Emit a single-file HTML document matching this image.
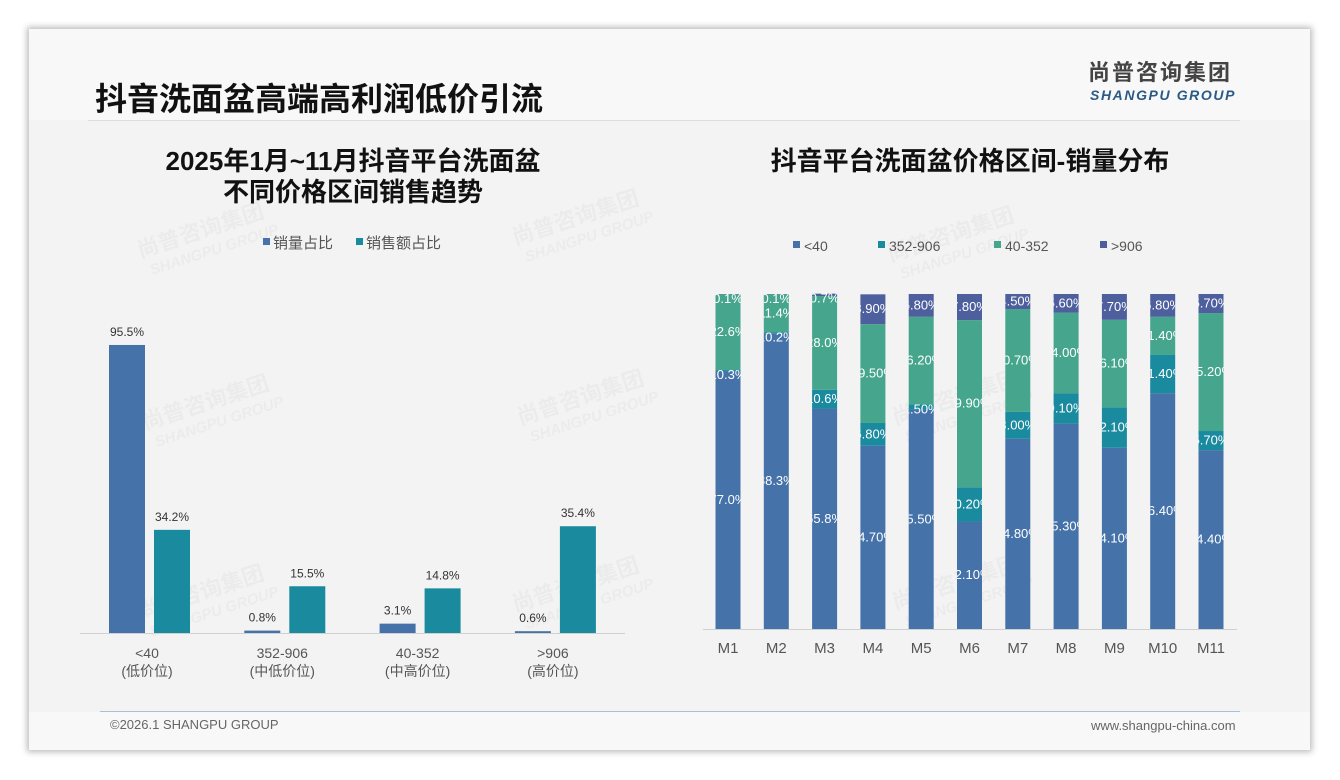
<!DOCTYPE html>
<html><head><meta charset="utf-8"><style>
body{margin:0;width:1340px;height:780px;background:#fff;font-family:"Liberation Sans","Noto Sans CJK SC",sans-serif;overflow:hidden}
#card{position:absolute;left:29px;top:29px;width:1281px;height:721px;background:#f3f3f3;box-shadow:0 0 6px 2px #bbb}
#hdr{position:absolute;left:0;top:0;width:1281px;height:91px;background:#f8f8f8}
#ftr{position:absolute;left:0;top:683px;width:1281px;height:38px;background:#f8f8f8}
.t{position:absolute;white-space:nowrap}
</style></head><body>
<div id="card">
<div id="hdr"></div>
<div id="ftr"></div>
</div>
<div class="t" style="left:95px;top:74px;font-size:32px;font-weight:bold;color:#111">抖音洗面盆高端高利润低价引流</div>
<div style="position:absolute;left:88px;top:120px;width:1152px;height:1px;background:#ddd"></div>
<div class="t" style="left:1088px;top:60px;font-size:22px;line-height:26px;font-weight:bold;color:#444;letter-spacing:2px">尚普咨询集团</div>
<div class="t" style="left:1090px;top:87px;font-size:14px;line-height:16px;font-weight:bold;font-style:italic;color:#2a5a86;letter-spacing:1.6px">SHANGPU GROUP</div>
<div style="position:absolute;left:100px;top:711px;width:1140px;height:1px;background:#a9bfd6"></div>
<div class="t" style="left:110px;top:717px;font-size:13px;color:#666">©2026.1 SHANGPU GROUP</div>
<div class="t" style="left:1091px;top:718px;font-size:13px;color:#666">www.shangpu-china.com</div>

<svg id="chart" width="1340" height="780" style="position:absolute;left:0;top:0"></svg>
<script>
const leftCats=["<40","352-906","40-352",">906"];
const leftSub=["(低价位)","(中低价位)","(中高价位)","(高价位)"];
const volShare=[95.5,0.8,3.1,0.6];
const amtShare=[34.2,15.5,14.8,35.4];
const months=["M1","M2","M3","M4","M5","M6","M7","M8","M9","M10","M11"];
const sLow=[77.0,88.3,65.8,54.7,65.5,32.1,56.8,61.3,54.1,70.4,53.4];
const sMidLow=[0.3,0.2,5.6,6.8,1.5,10.2,8.0,9.1,12.1,11.4,5.7];
const sMidHigh=[22.6,11.4,28.0,29.5,26.2,49.9,30.7,24.0,26.1,11.4,35.2];
const sHigh=[0.1,0.1,0.7,8.9,6.8,7.8,4.5,5.6,7.7,6.8,5.7];
const lowLbl=["77.0%","88.3%","65.8%","54.70%","65.50%","32.10%","54.80%","65.30%","54.10%","76.40%","54.40%"];
const midLowLbl=["10.3%","10.2%","10.6%","6.80%","1.50%","10.20%","8.00%","9.10%","12.10%","11.40%","5.70%"];
const midHighLbl=["22.6%","11.4%","28.0%","29.50%","26.20%","49.90%","30.70%","24.00%","26.10%","11.40%","35.20%"];
const highLbl=["0.1%","0.1%","0.7%","8.90%","6.80%","7.80%","4.50%","5.60%","7.70%","6.80%","5.70%"];

const svg=document.getElementById('chart');
const NS='http://www.w3.org/2000/svg';
function mk(tag,attrs,txt){const e=document.createElementNS(NS,tag);for(const k in attrs)e.setAttribute(k,attrs[k]);if(txt!==undefined)e.textContent=txt;svg.appendChild(e);return e;}
const FONT='"Liberation Sans","Noto Sans CJK SC",sans-serif';

[[140,258],[515,245],[890,262],[145,430],[520,425],[895,425],[140,620],[515,612],[895,610]].forEach(p=>{
 let t=mk('text',{x:p[0],y:p[1],transform:`rotate(-18 ${p[0]} ${p[1]})`,'font-size':22,'font-weight':'bold',fill:'#000','fill-opacity':0.03,'font-family':FONT},'尚普咨询集团');
 
 
 let u=mk('text',{x:p[0]+6,y:p[1]+20,transform:`rotate(-18 ${p[0]} ${p[1]})`,'font-size':15,'font-weight':'bold','font-style':'italic',fill:'#000','fill-opacity':0.03,'font-family':FONT},'SHANGPU GROUP');
 
 
});

let lt=mk('text',{x:353,y:170,'text-anchor':'middle','font-size':26,'font-weight':'bold',fill:'#111','font-family':FONT},'2025年1月~11月抖音平台洗面盆');


let lt2=mk('text',{x:353,y:201,'text-anchor':'middle','font-size':26,'font-weight':'bold',fill:'#111','font-family':FONT},'不同价格区间销售趋势');


const BLUE='#4472a9',TEAL='#1a8a9f',GREEN='#46a68d',NAVY='#4e5f9e';
[[263,BLUE,'销量占比'],[356,TEAL,'销售额占比']].forEach(l=>{
 let r=mk('rect',{x:l[0],y:238,width:7,height:7,fill:l[1]});
 
 
 let t=mk('text',{x:l[0]+10,y:248,'font-size':15,fill:'#555','font-family':FONT},l[2]);
 
 
});
const LB=633,LS=3.016,LX0=150,LDX=135.3,BW=36;
const lx=i=>LX0+i*LDX, ly=v=>LB-v*LS;
leftCats.forEach((c,i)=>{
 const cx=lx(i);
 let b1=mk('rect',{x:cx-BW-5,y:ly(volShare[i]),width:BW,height:LB-ly(volShare[i]),fill:BLUE});
 
 
 let b2=mk('rect',{x:cx+4,y:ly(amtShare[i]),width:BW,height:LB-ly(amtShare[i]),fill:TEAL});
 
 
 let v1=mk('text',{x:cx-BW/2-5,y:ly(volShare[i])-9,'text-anchor':'middle','font-size':12,fill:'#333','font-family':FONT},volShare[i].toFixed(1)+'%');
 
 
 let v2=mk('text',{x:cx+4+BW/2,y:ly(amtShare[i])-9,'text-anchor':'middle','font-size':12,fill:'#333','font-family':FONT},amtShare[i].toFixed(1)+'%');
 
 
 let c1=mk('text',{x:cx-3,y:658,'text-anchor':'middle','font-size':14,fill:'#555','font-family':FONT},c);
 
 
 let c2=mk('text',{x:cx-3,y:676,'text-anchor':'middle','font-size':14,fill:'#555','font-family':FONT},leftSub[i]);
 
 
});
let la=mk('line',{x1:80,y1:LB+0.5,x2:625,y2:LB+0.5,stroke:'#d0d0d0'});



let rt=mk('text',{x:970,y:170,'text-anchor':'middle','font-size':26,'font-weight':'bold',fill:'#111','font-family':FONT},'抖音平台洗面盆价格区间-销量分布');


[[793,BLUE,'<40'],[878,TEAL,'352-906'],[994,GREEN,'40-352'],[1100,NAVY,'>906']].forEach(l=>{
 let r=mk('rect',{x:l[0],y:241,width:7,height:7,fill:l[1]});
 
 
 let t=mk('text',{x:l[0]+11,y:251,'font-size':14,fill:'#555','font-family':FONT},l[2]);
 
 
});
const RB=629,RS=3.35,RX0=728,RDX=48.3,RW=25;
const rx=i=>RX0+i*RDX, rh=v=>v*RS;
const series=[[sLow,lowLbl,BLUE,'bar-under-40'],[sMidLow,midLowLbl,TEAL,'bar-352-906'],[sMidHigh,midHighLbl,GREEN,'bar-40-352'],[sHigh,highLbl,NAVY,'bar-over-906']];
const defs=mk('defs',{});
months.forEach((m,i)=>{
 const cp=document.createElementNS(NS,'clipPath');cp.setAttribute('id','cp'+i);
 const cr=document.createElementNS(NS,'rect');cr.setAttribute('x',rx(i)-RW/2);cr.setAttribute('y',200);cr.setAttribute('width',RW);cr.setAttribute('height',440);
 cp.appendChild(cr);defs.appendChild(cp);
 let y=RB;
 series.forEach(s=>{
  const h=rh(s[0][i]);y-=h;
  let r=mk('rect',{x:rx(i)-RW/2,y:y,width:RW,height:h,fill:s[2]});
  
  
  let t=mk('text',{x:rx(i),y:Math.max(y+h/2+4,y+9),'text-anchor':'middle','font-size':13,fill:'#fff','font-family':FONT,'clip-path':`url(#cp${i})`},s[1][i]);
  
  
 });
 let ml=mk('text',{x:rx(i),y:653,'text-anchor':'middle','font-size':15,fill:'#555','font-family':FONT},m);
 
 
});
let ra=mk('line',{x1:703,y1:RB+0.5,x2:1237,y2:RB+0.5,stroke:'#d0d0d0'});


</script>
</body></html>
